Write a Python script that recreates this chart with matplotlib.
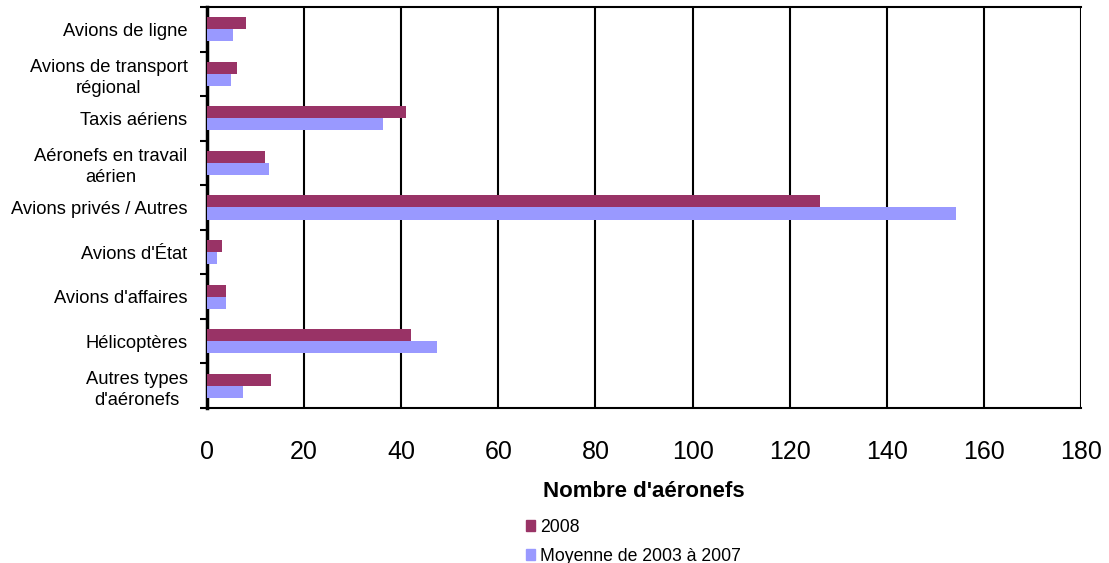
import numpy as np
import matplotlib.pyplot as plt
from matplotlib.patches import Patch

plt.rcParams['font.family'] = ['Liberation Sans', 'DejaVu Sans']

# Données
categories = ["Avions de ligne", "Avions de transport\nrégional", "Taxis aériens",
              "Aéronefs en travail\naérien", "Avions privés / Autres", "Avions d'État",
              "Avions d'affaires", "Hélicoptères", "Autres types\nd'aéronefs"]
val_2008 = [8, 6.2, 41, 12, 126.3, 3, 4, 42, 13.2]
val_moyenne = [5.4, 5, 36.2, 12.8, 154.3, 2, 4, 47.3, 7.4]
x_ticks = [0, 20, 40, 60, 80, 100, 120, 140, 160, 180]

col_2008 = "#993366"
col_moy = "#9999FF"

fig = plt.figure(figsize=(11.09, 5.63), dpi=100)
ax = fig.add_axes([0.1867, 0.2753, 0.7881, 0.7123])

y = np.arange(len(categories))
h = 0.27
ax.barh(y - h / 2, val_2008, height=h, color=col_2008, zorder=3)
ax.barh(y + h / 2, val_moyenne, height=h, color=col_moy, zorder=3)

ax.set_ylim(len(categories) - 0.5, -0.5)
ax.set_xlim(0, 180)
ax.set_xticks(x_ticks)
ax.set_xticklabels([str(t) for t in x_ticks], fontsize=18)
ax.tick_params(axis="x", length=0, pad=23)

# étiquettes des catégories, ticks aux séparations
ax.set_yticks(y)
ax.set_yticklabels(categories, fontsize=13.2, multialignment="center", linespacing=1.3)
ax.tick_params(axis="y", which="major", length=0, pad=14)
ax.set_yticks(np.arange(len(categories) + 1) - 0.5, minor=True)
ax.tick_params(axis="y", which="minor", length=5, width=1.5, direction="out")

ax.grid(axis="x", color="black", linewidth=1.5, zorder=1)
ax.spines["right"].set_visible(False)
ax.spines["left"].set_linewidth(2.5)
ax.spines["top"].set_linewidth(1.5)
ax.spines["bottom"].set_linewidth(1.5)

ax.set_xlabel("Nombre d'aéronefs", fontsize=16, fontweight="bold", labelpad=12)

handles = [Patch(color=col_2008, label="2008"),
           Patch(color=col_moy, label="Moyenne de 2003 à 2007")]
fig.legend(handles=handles, loc="upper left", bbox_to_anchor=(0.474, 0.079), frameon=False,
           fontsize=12.7, handlelength=0.55, handleheight=0.55, handletextpad=0.28,
           labelspacing=0.68, borderaxespad=0, borderpad=0)

fig.savefig("out.png", dpi=100)
